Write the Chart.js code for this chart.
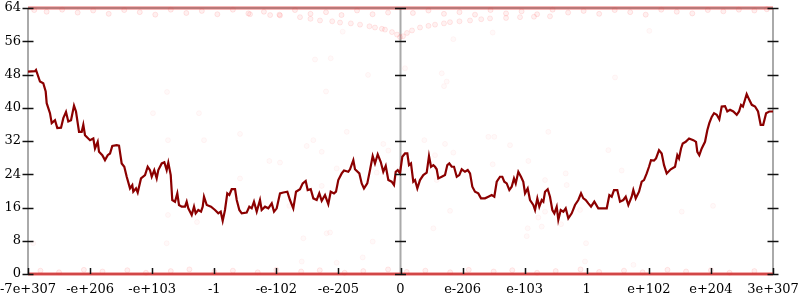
<!DOCTYPE html>
<html>
<head>
<meta charset="utf-8">
<script src="https://cdn.jsdelivr.net/npm/chart.js@4.4.1/dist/chart.umd.min.js"></script>
<style>
  html, body { margin: 0; padding: 0; background: #fff; }
  canvas { display: block; }
</style>
</head>
<body>
<canvas id="errChart" width="800" height="300"></canvas>
<script>
// tick labels of the float axis, one per integer step from -6 to 6
const xLabels = ['-7e+307', '-e+206', '-e+103', '-1', '-e-102', '-e-205', '0',
                 'e-206', 'e-103', '1', 'e+102', 'e+204', '3e+307'];

// main (dark red) curve
const lineX = [
  -6.000, -5.887, -5.871, -5.807, -5.754, -5.715, -5.699, -5.646, -5.618, -5.565, -5.528, -5.468,
  -5.431, -5.388, -5.351, -5.307, -5.259, -5.227, -5.178, -5.135, -5.109, -5.082, -5.001, -4.948,
  -4.921, -4.877, -4.856, -4.803, -4.760, -4.716, -4.679, -4.642, -4.571, -4.534, -4.491, -4.449,
  -4.410, -4.357, -4.320, -4.304, -4.260, -4.233, -4.180, -4.115, -4.072, -4.035, -4.007, -3.966,
  -3.927, -3.901, -3.846, -3.804, -3.766, -3.740, -3.701, -3.676, -3.632, -3.595, -3.568, -3.524,
  -3.471, -3.444, -3.418, -3.363, -3.326, -3.299, -3.257, -3.213, -3.186, -3.165, -3.121, -3.052,
  -2.988, -2.935, -2.896, -2.864, -2.827, -2.790, -2.757, -2.719, -2.665, -2.638, -2.596, -2.558,
  -2.477, -2.435, -2.397, -2.360, -2.316, -2.263, -2.236, -2.182, -2.129, -2.074, -2.037, -1.994,
  -1.941, -1.888, -1.823, -1.780, -1.727, -1.683, -1.619, -1.575, -1.527, -1.495, -1.446, -1.404,
  -1.350, -1.308, -1.269, -1.216, -1.163, -1.124, -1.071, -1.039, -1.002, -0.947, -0.910, -0.841,
  -0.813, -0.760, -0.733, -0.663, -0.625, -0.588, -0.535, -0.491, -0.448, -0.411, -0.367, -0.319,
  -0.277, -0.238, -0.196, -0.142, -0.105, -0.077, -0.045, -0.008,
  0.029, 0.073, 0.110, 0.137, 0.169, 0.206, 0.234, 0.271, 0.314, 0.367, 0.422, 0.459,
  0.492, 0.529, 0.556, 0.583, 0.609, 0.664, 0.717, 0.754, 0.786, 0.825, 0.862, 0.906,
  0.947, 0.986, 1.039, 1.083, 1.120, 1.157, 1.200, 1.253, 1.297, 1.361, 1.415, 1.469,
  1.511, 1.550, 1.603, 1.640, 1.672, 1.711, 1.753, 1.791, 1.828, 1.856, 1.898, 1.941,
  1.978, 2.006, 2.049, 2.086, 2.139, 2.167, 2.204, 2.236, 2.275, 2.301, 2.328, 2.371,
  2.408, 2.446, 2.478, 2.516, 2.542, 2.581, 2.623, 2.661, 2.703, 2.758, 2.811, 2.864,
  2.908, 2.945, 2.984, 3.025, 3.069, 3.122,
  3.186, 3.241, 3.322, 3.364, 3.402, 3.439, 3.492, 3.536, 3.589, 3.628, 3.670, 3.724,
  3.750, 3.789, 3.842, 3.885, 3.922, 3.966, 4.003, 4.035, 4.083, 4.116, 4.164, 4.207,
  4.245, 4.288, 4.353, 4.422, 4.459, 4.486, 4.519, 4.546, 4.594, 4.648, 4.717, 4.760,
  4.781, 4.813, 4.852, 4.905, 4.942, 4.974, 5.013, 5.050, 5.094, 5.135, 5.174, 5.227,
  5.264, 5.308, 5.361, 5.416, 5.453, 5.485, 5.516, 5.576, 5.618, 5.658, 5.711, 5.759,
  5.801, 5.842, 5.889, 5.940, 6.000
];
const lineY = [
  48.7, 48.8, 49.1, 46.3, 45.9, 43.9, 41.1, 38.7, 36.3, 37.0, 35.1, 35.2,
  37.5, 39.0, 36.7, 37.0, 40.5, 39.1, 34.2, 34.2, 35.9, 33.4, 32.2, 32.6,
  30.2, 31.8, 29.4, 28.6, 27.4, 28.6, 29.0, 30.8, 31.0, 30.9, 26.6, 25.8,
  23.4, 20.6, 21.4, 19.8, 20.6, 19.6, 23.0, 23.8, 25.8, 25.0, 23.4, 25.0,
  23.0, 25.0, 26.6, 26.9, 25.0, 26.8, 23.8, 17.8, 17.4, 19.4, 16.6, 16.2,
  16.2, 17.4, 15.8, 14.2, 16.2, 14.6, 15.4, 15.0, 16.2, 18.6, 16.6, 16.2,
  15.4, 14.6, 15.0, 12.8, 15.4, 19.4, 19.0, 20.4, 20.4, 17.8, 15.4, 14.6,
  14.8, 16.2, 15.8, 17.4, 15.0, 17.8, 15.4, 16.2, 15.8, 17.0, 15.0, 15.8,
  19.4, 19.6, 19.8, 17.8, 15.8, 19.8, 20.4, 21.8, 22.4, 20.2, 20.4, 18.2,
  17.8, 19.4, 17.6, 19.0, 16.8, 19.8, 19.4, 19.8, 22.6, 24.2, 24.9, 24.6,
  25.2, 27.4, 25.2, 24.2, 21.8, 20.6, 21.8, 25.0, 28.4, 26.6, 28.8, 27.0,
  24.6, 26.0, 22.6, 22.2, 21.4, 24.6, 25.0, 24.2,
  28.2, 29.0, 29.0, 26.2, 26.6, 22.2, 22.6, 20.6, 22.6, 23.8, 24.4, 28.4,
  25.8, 26.2, 25.8, 25.2, 23.0, 23.4, 23.8, 26.2, 26.6, 25.8, 25.8, 23.4,
  23.8, 25.2, 24.6, 25.0, 24.2, 21.0, 19.8, 19.4, 18.2, 18.2, 18.6, 19.0,
  18.6, 22.2, 23.4, 23.4, 22.2, 21.8, 20.2, 21.0, 23.0, 21.8, 24.6, 23.4,
  22.2, 19.4, 20.6, 17.8, 16.6, 15.4, 18.2, 16.2, 17.8, 17.4, 19.8, 20.4,
  18.6, 15.4, 14.6, 16.2, 13.0, 15.4, 15.0, 15.8, 13.4, 14.6, 16.6, 17.8,
  19.4, 18.2, 17.8, 17.0, 16.2, 17.4,
  15.8, 15.8, 15.8, 19.0, 18.6, 20.2, 20.2, 17.4, 17.8, 18.6, 16.6, 18.6,
  20.2, 18.2, 19.8, 22.2, 22.6, 24.2, 25.8, 27.4, 27.3, 27.8, 29.8, 29.0,
  26.2, 24.2, 25.2, 25.8, 28.6, 27.8, 30.2, 31.4, 31.8, 32.6, 32.2, 31.8,
  29.4, 28.6, 30.2, 31.8, 34.6, 36.3, 37.8, 38.7, 38.3, 37.2, 40.3, 40.4,
  39.1, 39.5, 39.1, 38.3, 39.1, 40.7, 40.3, 43.3, 41.9, 40.7, 40.3, 39.1,
  35.9, 35.9, 38.7, 39.1, 39.1
];

// faint sample dots
const topRowX = [-5.9, -5.7, -5.45, -5.2, -4.95, -4.7, -4.45, -4.2, -3.95, -3.7, -3.45, -3.2,
  -2.95, -2.7, -2.45, -2.2, -1.95, -1.7, -1.45, -1.2, -0.95, -0.7, -0.45, -0.2,
  0.2, 0.45, 0.7, 0.95, 1.2, 1.45, 1.7, 1.95, 2.2, 2.45, 2.7, 2.95,
  3.2, 3.45, 3.7, 3.95, 4.2, 4.45, 4.7, 4.95, 5.2, 5.45, 5.7, 5.9];
const topRowY = [63.5, 63.1, 63.6, 62.9, 63.4, 62.6, 63.5, 63.0, 62.4, 63.6, 62.8, 63.3,
  62.5, 63.6, 62.7, 63.1, 62.4, 63.5, 62.6, 63.0, 62.3, 63.4, 62.5, 62.9,
  62.8, 63.4, 62.6, 63.0, 62.4, 63.5, 62.7, 63.2, 62.5, 63.6, 62.9, 63.3,
  62.6, 63.5, 63.0, 62.4, 63.6, 63.1, 62.7, 63.5, 63.2, 63.6, 63.4, 63.7];

const cuspX = [-2.424, -2.1, -1.941, -1.619, -1.45, -1.297, -1.1, -0.974, -0.8, -0.652, -0.5,
  -0.411, -0.3, -0.250, -0.137, -0.056, -0.008,
  0.040, 0.105, 0.185, 0.314, 0.45, 0.556, 0.7, 0.797, 0.95, 1.120, 1.3, 1.442, 1.7,
  1.925, 2.15, 2.408];
const cuspY = [62.5, 62.3, 62.2, 61.8, 61.4, 61.0, 60.8, 60.5, 60.3, 60.0, 59.6,
  59.3, 59.0, 58.8, 58.2, 57.6, 57.0,
  57.2, 58.0, 58.6, 59.3, 59.7, 60.0, 60.3, 60.6, 60.8, 61.0, 61.3, 61.5, 61.6,
  61.8, 61.9, 62.0];

const floorRowX = [-5.8, -5.5, -5.1, -4.8, -4.4, -4.1, -3.7, -3.4, -3.0, -2.7, -2.3, -2.0,
  -1.6, -1.3, -0.9, -0.6, -0.2, 0.1, 0.4, 0.8, 1.1, 1.5, 1.8, 2.2, 2.5, 2.9,
  3.2, 3.6, 3.9, 4.3, 4.6, 5.0, 5.3, 5.7];
const floorRowY = [0.8, 0.4, 1.0, 0.6, 0.9, 0.3, 0.7, 1.1, 0.5, 0.8, 0.4, 1.0,
  0.6, 0.9, 0.3, 0.7, 1.1, 0.5, 0.8, 0.4, 1.0, 0.6, 0.9, 0.3, 0.7, 1.1,
  0.5, 0.8, 0.4, 1.0, 0.6, 0.9, 0.3, 0.7];

const sparseX = [-3.761, -3.987, -3.246, -3.745, -3.165, -3.745, -3.278, -1.377, -1.124, -0.931,
  -0.523, -1.200, 0.664, 0.744, 0.701, 0.073, 0.851, 1.485, 4.008, 3.456,
  5.034, 4.530, 3.752, -1.565, -1.189, -1.135, -0.448, -0.609, 2.049, 2.033,
  2.328, 2.988, 2.972, -1.028, -1.591, -5.915, -3.766, -2.585, -1.511, -1.404,
  -1.269, -2.113, -1.941, -2.585, -0.866, -0.277, -0.196, -1.028, -1.269, -0.383,
  -1.791, 0.384, 0.717, 1.415, 1.511, 1.764, 2.381, 0.556, 0.851, 1.485,
  2.059, 2.661, 2.677, 2.328, 0.583, 0.798, 2.220, 2.275, 2.586, 2.892,
  0.529, 3.348, 3.563];
const sparseY = [43.8, 38.7, 38.7, 32.2, 32.2, 14.2, 12.5, 51.6, 51.9, 58.3,
  47.9, 43.9, 48.3, 46.3, 45.2, 49.5, 56.5, 58.1, 58.5, 47.3,
  16.4, 15.0, 2.2, 8.6, 9.8, 10.0, 7.8, 4.0, 11.0, 9.1,
  15.0, 7.4, 3.0, 2.7, 3.0, 7.4, 7.4, 33.7, 30.8, 32.2,
  29.4, 27.2, 26.8, 23.0, 34.2, 31.3, 29.7, 25.4, 21.2, 24.4,
  16.4, 32.2, 31.3, 33.0, 33.0, 31.0, 34.2, 28.6, 29.2, 26.4,
  27.2, 24.2, 21.4, 22.6, 22.6, 15.2, 13.6, 11.4, 12.0, 15.4,
  11.0, 29.8, 24.9];

// the dense piles of samples at 0 and at 64
const bandX = [-6, 6];
const floorY = [0, 0];
const ceilY = [64, 64];

const pts = (xs, ys) => xs.map((x, i) => ({ x: x, y: ys[i] }));

function dots(data, alpha) {
  return {
    type: 'scatter',
    data: data,
    showLine: false,
    pointRadius: 2.5,
    pointBackgroundColor: 'rgba(255,60,60,' + alpha + ')',
    pointBorderColor: 'rgba(255,60,60,' + (alpha * 1.5) + ')',
    pointBorderWidth: 1,
    clip: 4
  };
}

// gray axes with ticks crossing them, like the original plot
const axesPlugin = {
  id: 'axes',
  beforeDatasetsDraw(chart) {
    const { ctx, chartArea: a, scales: { x } } = chart;
    ctx.save();
    ctx.strokeStyle = '#aaaaaa';
    ctx.lineWidth = 2;
    [x.getPixelForValue(-6), x.getPixelForValue(0), x.getPixelForValue(6)].forEach(px => {
      ctx.beginPath(); ctx.moveTo(px, a.top); ctx.lineTo(px, a.bottom); ctx.stroke();
    });
    ctx.strokeStyle = '#999999';
    ctx.beginPath(); ctx.moveTo(a.left, a.top); ctx.lineTo(a.right, a.top); ctx.stroke();
    ctx.beginPath(); ctx.moveTo(a.left, a.bottom); ctx.lineTo(a.right, a.bottom); ctx.stroke();
    ctx.restore();
  },
  afterDatasetsDraw(chart) {
    const { ctx, chartArea: a, scales: { x, y } } = chart;
    ctx.save();
    const cols = [x.getPixelForValue(-6), x.getPixelForValue(0), x.getPixelForValue(6)];
    y.ticks.forEach(t => {
      const py = Math.round(y.getPixelForValue(t.value)) + 0.5;
      const major = t.value % 8 === 0;
      ctx.strokeStyle = major ? '#111' : '#777';
      ctx.lineWidth = major ? 1.5 : 1;
      const half = major ? 5.5 : 3;
      cols.forEach(px => {
        ctx.beginPath(); ctx.moveTo(px - half, py); ctx.lineTo(px + half, py); ctx.stroke();
      });
    });
    ctx.strokeStyle = '#111';
    ctx.lineWidth = 1.5;
    x.ticks.forEach(t => {
      const px = Math.round(x.getPixelForValue(t.value)) + 0.5;
      ctx.beginPath(); ctx.moveTo(px, a.bottom); ctx.lineTo(px, a.bottom - 6); ctx.stroke();
    });
    ctx.restore();
  }
};

new Chart(document.getElementById('errChart'), {
  type: 'scatter',
  data: {
    datasets: [
      {
        type: 'line',
        data: pts(lineX, lineY),
        borderColor: '#8b0000',
        borderWidth: 2.2,
        pointRadius: 0,
        tension: 0,
        fill: false
      },
      {
        type: 'line',
        data: pts(bandX, floorY),
        borderColor: 'rgba(222,50,50,0.8)',
        borderWidth: 3,
        pointRadius: 0,
        clip: 4
      },
      {
        type: 'line',
        data: pts(bandX, ceilY),
        borderColor: 'rgba(230,70,70,0.4)',
        borderWidth: 4,
        pointRadius: 0,
        clip: 4
      },
      dots(pts(topRowX, topRowY), 0.08),
      dots(pts(cuspX, cuspY), 0.07),
      dots(pts(floorRowX, floorRowY), 0.07),
      dots(pts(sparseX, sparseY), 0.03)
    ]
  },
  options: {
    responsive: false,
    animation: false,
    devicePixelRatio: 1,
    layout: { padding: { top: 8, right: 27, left: 0, bottom: 0 } },
    plugins: { legend: { display: false }, tooltip: { enabled: false } },
    scales: {
      x: {
        type: 'linear',
        min: -6,
        max: 6,
        grid: { display: false, drawTicks: false },
        border: { display: false },
        ticks: {
          stepSize: 1,
          autoSkip: false,
          maxRotation: 0,
          padding: 8,
          color: '#000',
          font: { family: 'DejaVu Serif', size: 13 },
          callback: v => xLabels[Math.round(v) + 6]
        },
        afterFit: s => { s.height = 26; s.paddingLeft = 0; s.paddingRight = 0; }
      },
      y: {
        min: 0,
        max: 64,
        grid: { display: false, drawTicks: false },
        border: { display: false },
        ticks: {
          stepSize: 4,
          padding: 7,
          color: '#000',
          font: { family: 'DejaVu Serif', size: 13 },
          callback: v => (v % 8 === 0 ? String(v) : '')
        },
        afterFit: s => { s.width = 28; s.paddingTop = 0; s.paddingBottom = 0; }
      }
    }
  },
  plugins: [axesPlugin]
});
</script>
</body>
</html>
